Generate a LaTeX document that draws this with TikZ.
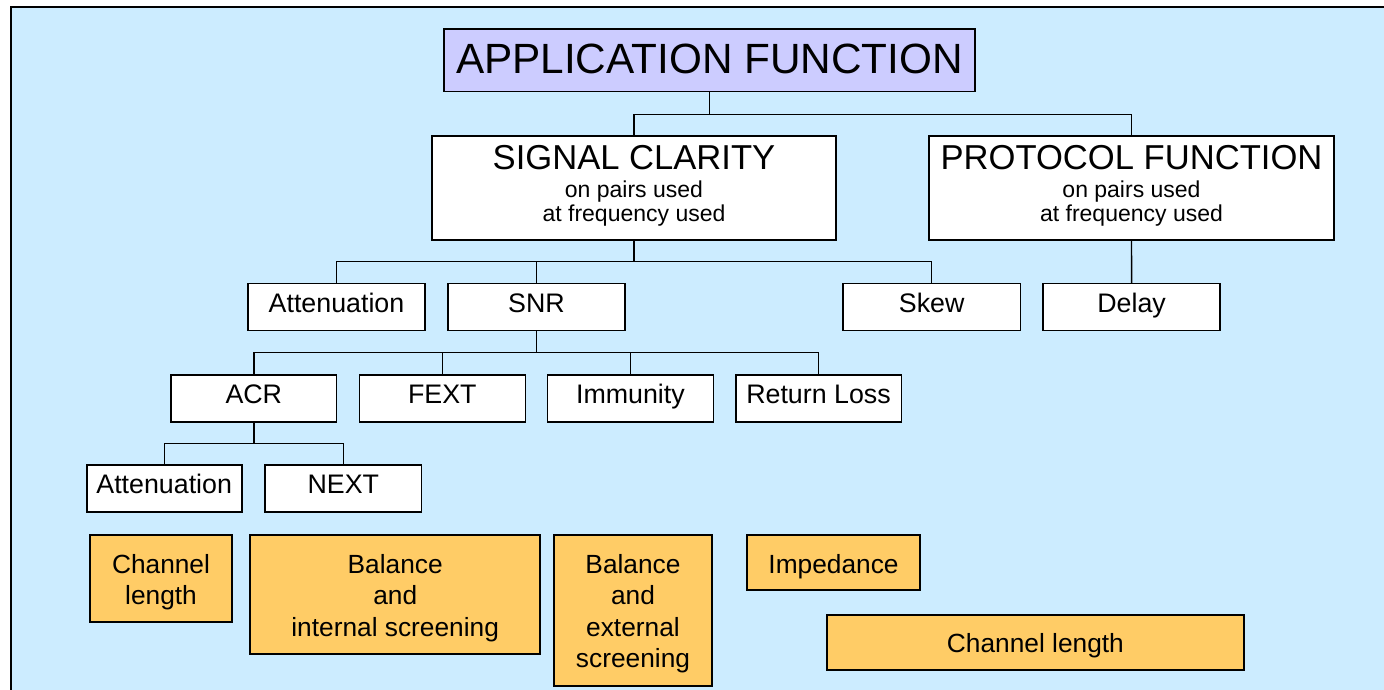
\documentclass[tikz,border=0pt]{standalone}
\usepackage{fontspec}
\setmainfont{Liberation Sans}
\definecolor{skyback}{HTML}{CCECFF}
\definecolor{lilac}{HTML}{CCCCFF}
\definecolor{ochre}{HTML}{FFCC66}
\tikzset{
  wbox/.style={draw, fill=white, line width=1.6pt, inner sep=0pt, outer sep=0pt,
    font=\fontsize{26.8}{32}\selectfont, text height=28.5pt, text depth=18.5pt},
  obox/.style={draw, fill=ochre, line width=2pt, inner sep=0pt, outer sep=0pt,
    font=\fontsize{26.3}{31.6}\selectfont, text height=38pt},
  head/.style={draw, fill=white, line width=1.6pt, inner sep=0pt, outer sep=0pt,
    font=\fontsize{23}{24.4}\selectfont, text height=33.3pt, text depth=70.7pt},
  link/.style={line width=1.4pt}
}
\newcommand{\twolines}[1]{\begin{tabular}[t]{@{}c@{}}#1\end{tabular}}
\begin{document}
\begin{tikzpicture}[x=1pt,y=-1pt]
\useasboundingbox (0,0) rectangle (1384,690);
% panel
\fill[skyback] (11,7) rectangle (1384,690);
\draw[line width=2.3pt] (11,690) -- (11,7) -- (1384,7);

% top level
\node[draw, fill=lilac, line width=1.6pt, inner sep=0pt, outer sep=0pt,
  font=\fontsize{42.3}{50}\selectfont, text height=44pt, text depth=18.4pt,
  minimum width=531pt] (app) at (709.5,60.5) {APPLICATION FUNCTION};

% second level
\node[head, minimum width=404pt] (sig) at (634,188)
  {\twolines{{\fontsize{34.6}{36}\selectfont SIGNAL CLARITY}\\[3.6pt] on pairs used\\ at frequency used}};
\node[head, minimum width=405pt] (proto) at (1131.5,188)
  {\twolines{{\fontsize{34.6}{36}\selectfont PROTOCOL FUNCTION}\\[3.6pt] on pairs used\\ at frequency used}};

% third level
\node[wbox, minimum width=177pt] (att) at (336.5,307) {Attenuation};
\node[wbox, minimum width=177pt] (snr) at (536.5,307) {SNR};
\node[wbox, minimum width=177.5pt] (skew) at (931.7,307) {Skew};
\node[wbox, minimum width=177pt] (delay) at (1131.6,307) {Delay};

% fourth level
\node[wbox, minimum width=165.7pt] (acr) at (253.8,398.5) {ACR};
\node[wbox, minimum width=166pt] (fext) at (442.3,398.5) {FEXT};
\node[wbox, minimum width=166pt] (imm) at (630.4,398.5) {Immunity};
\node[wbox, minimum width=165.6pt] (rl) at (818.5,398.5) {Return Loss};

% fifth level
\node[wbox, minimum width=155pt] (att2) at (164.2,488.5) {Attenuation};
\node[wbox, minimum width=156.7pt] (next) at (343.3,488.5) {NEXT};

% cable properties
\node[obox, minimum width=142pt, text depth=49pt] (chlen) at (161,578.5)
  {\twolines{Channel\\length}};
\node[obox, minimum width=289.7pt, text depth=81.3pt] (balint) at (395.2,594.65)
  {\twolines{Balance\\and\\internal screening}};
\node[obox, minimum width=158pt, text depth=112.7pt] (balext) at (633,610.35)
  {\twolines{Balance\\and\\external\\screening}};
\node[obox, minimum width=173.6pt, text depth=17pt] (imp) at (833.5,562.5) {Impedance};
\node[obox, minimum width=417.3pt, text height=37.7pt, text depth=17.3pt] (chlen2) at (1035.4,642.5)
  {Channel length};

% junction rows
\coordinate (j1) at (709.5,114.5);
\coordinate (j2) at (634,261.7);
\coordinate (j3) at (536.5,352.7);
\coordinate (j4) at (253.8,443.3);

% connectors
\draw[link] (app.south) -- (j1);
\draw[link] (sig.north) -- (sig.north |- j1) -- (proto.north |- j1) -- (proto.north);

\draw[link] (sig.south) -- (j2);
\draw[link] (att.north) -- (att.north |- j2) -- (skew.north |- j2) -- (skew.north);
\draw[link] (snr.north) -- (snr.north |- j2);
\draw[link] (proto.south) -- (delay.north);

\draw[link] (snr.south) -- (j3);
\draw[link] (acr.north) -- (acr.north |- j3) -- (rl.north |- j3) -- (rl.north);
\draw[link] (fext.north) -- (fext.north |- j3);
\draw[link] (imm.north) -- (imm.north |- j3);

\draw[link] (acr.south) -- (j4);
\draw[link] (att2.north) -- (att2.north |- j4) -- (next.north |- j4) -- (next.north);
\end{tikzpicture}
\end{document}
